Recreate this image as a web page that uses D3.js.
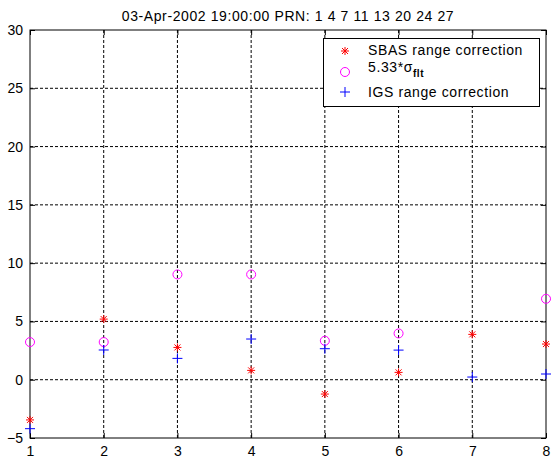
<!DOCTYPE html>
<html>
<head>
<meta charset="utf-8">
<script src="https://cdn.jsdelivr.net/npm/d3@7"></script>
<style>
  body { margin: 0; background: #fff; }
  text { font-family: "Liberation Sans", Arial, Helvetica, sans-serif; }
</style>
</head>
<body>
<svg id="chart"></svg>
<script>
// data
const title = "03-Apr-2002 19:00:00 PRN: 1 4 7 11 13 20 24 27"
const xs = [1, 2, 3, 4, 5, 6, 7, 8]
const sbas = [-3.45, 5.2, 2.77, 0.8, -1.23, 0.63, 3.89, 3.06]
const sigma = [3.23, 3.23, 9.03, 9.03, 3.34, 3.97, null, 6.94]
const igs = [-4.2, 2.55, 1.83, 3.49, 2.66, 2.54, 0.23, 0.49]
const xTicks = [1, 2, 3, 4, 5, 6, 7, 8]
const yTicks = [-5, 0, 5, 10, 15, 20, 25, 30]

let config = {
    width: 552,
    height: 462,
    margin: { left: 30, right: 6, top: 30, bottom: 24 },
    fontSize: 14,
    spacing: "0.6px",
    colors: { sbas: "#ff0000", sigma: "#ff00ff", igs: "#0000ff" }
}

const svg = d3.select("svg#chart")
    .attr("width", config.width)
    .attr("height", config.height)

const x = d3.scaleLinear().domain([1, 8]).range([config.margin.left, config.width - config.margin.right])
const y = d3.scaleLinear().domain([-5, 30]).range([config.height - config.margin.bottom, config.margin.top])

const x0 = x.range()[0], x1 = x.range()[1]
const y0 = y.range()[0], y1 = y.range()[1]

// dashed grid
svg.append("g").selectAll("line").data(xTicks.slice(1, -1)).join("line")
    .attr("x1", d => x(d)).attr("x2", d => x(d))
    .attr("y1", y1).attr("y2", y0)
    .style("stroke", "#000").style("stroke-dasharray", "3,2").style("stroke-width", 1)
svg.append("g").selectAll("line").data(yTicks.slice(1, -1)).join("line")
    .attr("x1", x0).attr("x2", x1)
    .attr("y1", d => y(d)).attr("y2", d => y(d))
    .style("stroke", "#000").style("stroke-dasharray", "3,2").style("stroke-width", 1)

// axes with inward ticks
const tick = 5
svg.append("g").attr("transform", `translate(0,${y0})`)
    .call(d3.axisBottom(x).tickValues(xTicks).tickFormat(d3.format("d")).tickSizeInner(-tick).tickSizeOuter(0).tickPadding(8))
svg.append("g").attr("transform", `translate(${x0},0)`)
    .call(d3.axisLeft(y).tickValues(yTicks).tickFormat(d3.format("d")).tickSizeInner(-tick).tickSizeOuter(0).tickPadding(7))
svg.append("g").attr("transform", `translate(0,${y1})`)
    .call(d3.axisTop(x).tickValues(xTicks).tickSizeInner(-tick).tickSizeOuter(0).tickFormat(""))
svg.append("g").attr("transform", `translate(${x1},0)`)
    .call(d3.axisRight(y).tickValues(yTicks).tickSizeInner(-tick).tickSizeOuter(0).tickFormat(""))

svg.selectAll(".domain").remove()
svg.selectAll(".tick line").style("stroke", "#000")
svg.selectAll(".tick text").style("font-size", config.fontSize + "px").style("fill", "#000")
    .style("font-family", "'Liberation Sans', Arial, sans-serif")

svg.append("rect")
    .attr("x", x0).attr("y", y1).attr("width", x1 - x0).attr("height", y0 - y1)
    .style("fill", "none").style("stroke", "#000").style("stroke-width", 1)

// title
svg.append("text")
    .attr("x", (x0 + x1) / 2).attr("y", 20.5)
    .attr("text-anchor", "middle")
    .style("font-size", config.fontSize + "px")
    .style("letter-spacing", config.spacing)
    .text(title)

// marker drawers
const star = (g, cx, cy, color) => {
    const s = 4
    g.append("path")
        .attr("d", `M${cx - s},${cy}H${cx + s}M${cx},${cy - s}V${cy + s}` +
            `M${cx - s * 0.75},${cy - s * 0.75}L${cx + s * 0.75},${cy + s * 0.75}` +
            `M${cx - s * 0.75},${cy + s * 0.75}L${cx + s * 0.75},${cy - s * 0.75}`)
        .style("stroke", color).style("stroke-width", 1).style("fill", "none")
}
const circ = (g, cx, cy, color) => {
    g.append("circle").attr("cx", cx).attr("cy", cy).attr("r", 4.5)
        .style("stroke", color).style("stroke-width", 1).style("fill", "none")
}
const plus = (g, cx, cy, color) => {
    const s = 5
    g.append("path")
        .attr("d", `M${cx - s},${cy}H${cx + s}M${cx},${cy - s}V${cy + s}`)
        .style("stroke", color).style("stroke-width", 1).style("fill", "none")
}

const marks = svg.append("g")
xs.forEach((xv, i) => {
    if (sbas[i] != null) star(marks, x(xv), y(sbas[i]), config.colors.sbas)
    if (sigma[i] != null) circ(marks, x(xv), y(sigma[i]), config.colors.sigma)
    if (igs[i] != null) plus(marks, x(xv), y(igs[i]), config.colors.igs)
})

// legend
const lg = svg.append("g")
lg.append("rect").attr("x", 323.5).attr("y", 38.5).attr("width", 216).attr("height", 68)
    .style("fill", "#fff").style("stroke", "#000").style("stroke-width", 1)
const lx = 345, tx = 368
star(lg, lx, 51, config.colors.sbas)
lg.append("text").attr("x", tx).attr("y", 55).style("font-size", config.fontSize + "px")
    .style("letter-spacing", config.spacing).text("SBAS range correction")
circ(lg, lx, 72, config.colors.sigma)
const t2 = lg.append("text").attr("x", tx).attr("y", 72).style("font-size", config.fontSize + "px")
    .style("letter-spacing", config.spacing)
t2.append("tspan").text("5.33*σ")
t2.append("tspan").attr("dy", 5).style("font-size", "10px").style("font-weight", "bold").text("flt")
plus(lg, lx, 92, config.colors.igs)
lg.append("text").attr("x", tx).attr("y", 97).style("font-size", config.fontSize + "px")
    .style("letter-spacing", config.spacing).text("IGS range correction")
</script>
</body>
</html>
